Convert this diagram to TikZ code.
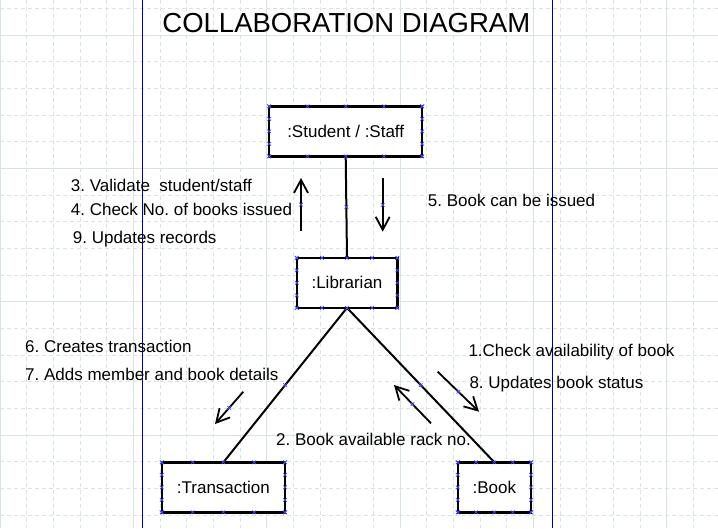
\documentclass[tikz,border=0pt]{standalone}
\usepackage{fontspec}
\setmainfont{Liberation Sans}
\usepackage{xcolor}
\usetikzlibrary{arrows.meta,calc}
\frenchspacing

\definecolor{gridcol}{RGB}{214,228,228}
\definecolor{pagecol}{RGB}{0,0,160}
\definecolor{handlecol}{RGB}{70,70,255}

\begin{document}
\begin{tikzpicture}[x=1pt,y=-1pt,
  obj/.style={draw,line width=2.4pt,fill=white,inner sep=0pt,outer sep=0pt,
    minimum height=50pt,font=\fontsize{17}{20}\selectfont},
  lbl/.style={anchor=base west,inner sep=0pt,font=\fontsize{17}{20}\selectfont},
  link/.style={line width=2pt},
  msg/.style={line width=1.8pt,-{Straight Barb[length=13pt,width=14pt]}},
  handle/.pic={\draw[handlecol,line width=0.7pt] (-1.8,-1.8) -- (1.8,1.8) (-1.8,1.8) -- (1.8,-1.8);}]

\useasboundingbox (0,0) rectangle (718,528);

% Grid
\foreach \i in {0,...,26}
  \draw[gridcol,line width=0.8pt,dash pattern=on 4pt off 3pt] (\i*26.667,0) -- (\i*26.667,528);
\foreach \j in {0,...,19}
  \draw[gridcol,line width=0.8pt,dash pattern=on 4pt off 3pt] (0,8.333+\j*26.667) -- (718,8.333+\j*26.667);
\foreach \i in {0,5,...,25}
  \draw[gridcol,line width=0.8pt] (\i*26.667,0) -- (\i*26.667,528);
\foreach \j in {1,6,11,16}
  \draw[gridcol,line width=0.8pt] (0,8.333+\j*26.667) -- (718,8.333+\j*26.667);

% Page margins
\draw[pagecol,line width=1pt] (142.3,0) -- (142.3,528);
\draw[pagecol,line width=1pt] (552,0) -- (552,528);

% Title
\node[anchor=base,inner sep=0pt,font=\fontsize{27.5}{30}\selectfont] (title) at (346.3,32.7) {COLLABORATION DIAGRAM};

% Objects
\node[obj,minimum width=153pt] (stu) at (345.7,131.3) {:Student / :Staff};
\node[obj,minimum width=100.6pt] (lib) at (347,282.8) {:Librarian};
\node[obj,minimum width=123.3pt] (tra) at (223.4,487.3) {:Transaction};
\node[obj,minimum width=73.3pt] (bk) at (494.4,487.3) {:Book};

% Links
\draw[link] (stu.south) -- (lib.north);
\draw[link] (lib.south) -- (tra.north);
\draw[link] (lib.south) -- (bk.north);

% Message arrows
\coordinate (valS) at (301,231);     \coordinate (valE) at (301,178);
\coordinate (issS) at (382.7,178);   \coordinate (issE) at (382.7,231.7);
\coordinate (creS) at (243.3,391.7); \coordinate (creE) at (215,424);
\coordinate (rackS) at (431,423.3);  \coordinate (rackE) at (394,385);
\coordinate (chkS) at (437.7,371.7); \coordinate (chkE) at (479,411.7);
\draw[msg] (valS) -- (valE);
\draw[msg] (issS) -- (issE);
\draw[msg] (creS) -- (creE);
\draw[msg] (rackS) -- (rackE);
\draw[msg] (chkS) -- (chkE);

% Selection handles
\foreach \b in {stu,lib,tra,bk}
  \foreach \t in {0,0.25,0.5,0.75,1}{
    \pic at ($(\b.north west)!\t!(\b.north east)$) {handle};
    \pic at ($(\b.south west)!\t!(\b.south east)$) {handle};
    \pic at ($(\b.north west)!\t!(\b.south west)$) {handle};
    \pic at ($(\b.north east)!\t!(\b.south east)$) {handle};
  }
\foreach \p/\q in {stu.south/lib.north,lib.south/tra.north,lib.south/bk.north,
    valS/valE,issS/issE,creS/creE,rackS/rackE,chkS/chkE}
  \pic at ($(\p)!0.5!(\q)$) {handle};

% Message labels
\node[lbl] (m3) at (70.7,191) {3. Validate\ \ student/staff};
\node[lbl] (m4) at (70.7,215.7) {4. Check No. of books issued};
\node[lbl] (m9) at (72.7,243) {9. Updates records};
\node[lbl] (m5) at (427.7,206) {5. Book can be issued};
\node[lbl] (m6) at (25,352.7) {6. Creates transaction};
\node[lbl] (m7) at (25,380.7) {7. Adds member and book details};
\node[lbl] (m1) at (468.3,356) {1.Check availability of book};
\node[lbl] (m8) at (469.3,388.7) {8. Updates book status};
\node[lbl] (m2) at (276,445) {2. Book available rack no.};

\end{tikzpicture}
\end{document}
